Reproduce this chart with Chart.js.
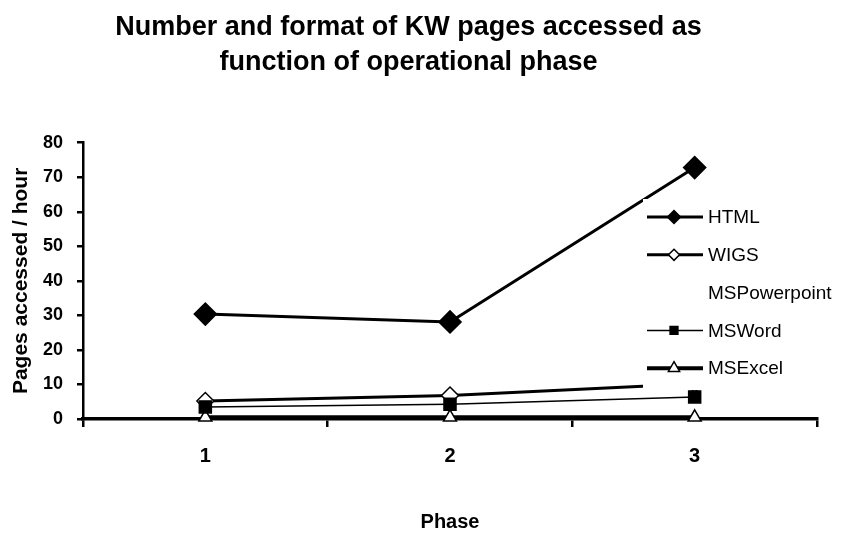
<!DOCTYPE html>
<html>
<head>
<meta charset="utf-8">
<script src="https://cdn.jsdelivr.net/npm/chart.js@4.4.1/dist/chart.umd.min.js"></script>
<style>
    html, body { margin: 0; padding: 0; background: #fff; }
    #wrap { width: 846px; height: 534px; }
</style>
</head>
<body>
<div id="wrap"><canvas id="lineChart" width="846" height="534"></canvas></div>
<script>
// data
var phases = ['1', '2', '3'];
var htmlPages = [30.4, 28.1, 72.8];
var wigsPages = [5.2, 6.8, 10.2];
var pptPages = [0, 0, 0];
var wordPages = [3.5, 4.3, 6.4];
var excelPages = [0.5, 0.5, 0.5];
var yMin = 0, yMax = 80, yStep = 10;

var FONT = "'Liberation Sans', Arial, sans-serif";

// legend drawn as a box over the plot, like the old excel chart
var legendBox = { left: 643, top: 199, right: 846, bottom: 390, rowTop: 217, rowGap: 37.8 };

function drawMarker(ctx, style, x, y, r, fill) {
    ctx.beginPath();
    if (style == 'rectRot') {
        ctx.moveTo(x, y - r); ctx.lineTo(x + r, y); ctx.lineTo(x, y + r); ctx.lineTo(x - r, y);
    } else if (style == 'rect') {
        var s = r * Math.SQRT1_2;
        ctx.rect(x - s, y - s, 2 * s, 2 * s);
    } else if (style == 'triangle') {
        for (var i = 0; i < 3; i++) {
            var a = i * 2 * Math.PI / 3;
            var px = x + Math.sin(a) * r, py = y - Math.cos(a) * r;
            if (i == 0) ctx.moveTo(px, py); else ctx.lineTo(px, py);
        }
    }
    ctx.closePath();
    ctx.fillStyle = fill;
    ctx.fill();
    ctx.lineWidth = 1.5;
    ctx.strokeStyle = '#000';
    ctx.stroke();
}

var boxLegend = {
    id: 'boxLegend',
    afterDatasetsDraw: function(chart) {
        var ctx = chart.ctx;
        ctx.save();
        ctx.fillStyle = '#fff';
        ctx.fillRect(legendBox.left, legendBox.top, legendBox.right - legendBox.left, legendBox.bottom - legendBox.top);
        chart.data.datasets.forEach(function(ds, i) {
            var y = legendBox.rowTop + i * legendBox.rowGap;
            if (ds.showLine !== false) {
                ctx.beginPath();
                ctx.moveTo(legendBox.left + 4, y);
                ctx.lineTo(legendBox.left + 60, y);
                ctx.lineWidth = ds.borderWidth;
                ctx.strokeStyle = '#000';
                ctx.stroke();
            }
            if (ds.pointRadius > 0) {
                var r = ds.pointStyle == 'triangle' ? 6.5 : ds.pointRadius * 0.65;
                drawMarker(ctx, ds.pointStyle, legendBox.left + 31, y, r, ds.pointBackgroundColor);
            }
            ctx.fillStyle = '#000';
            ctx.font = '19px ' + FONT;
            ctx.textAlign = 'left';
            ctx.textBaseline = 'middle';
            ctx.fillText(ds.label, legendBox.left + 65, y + 1);
        });
        ctx.restore();
    }
};

new Chart(document.getElementById('lineChart'), {
    type: 'line',
    data: {
        labels: phases,
        datasets: [{
            label: 'HTML',
            data: htmlPages,
            borderColor: '#000',
            borderWidth: 3,
            pointStyle: 'rectRot',
            pointRadius: 10,
            pointBackgroundColor: '#000',
            pointBorderColor: '#000',
            order: 0
        }, {
            label: 'WIGS',
            data: wigsPages,
            borderColor: '#000',
            borderWidth: 3,
            pointStyle: 'rectRot',
            pointRadius: 8.5,
            pointBorderWidth: 1.5,
            pointBackgroundColor: '#fff',
            pointBorderColor: '#000',
            order: 2
        }, {
            label: 'MSPowerpoint',
            data: pptPages,
            showLine: false,
            borderWidth: 0,
            pointRadius: 0,
            order: 4
        }, {
            label: 'MSWord',
            data: wordPages,
            borderColor: '#000',
            borderWidth: 1.5,
            pointStyle: 'rect',
            pointRadius: 8.5,
            pointBackgroundColor: '#000',
            pointBorderColor: '#000',
            order: 1
        }, {
            label: 'MSExcel',
            data: excelPages,
            borderColor: '#000',
            borderWidth: 4,
            pointStyle: 'triangle',
            pointRadius: 7.5,
            pointBorderWidth: 1.5,
            pointBackgroundColor: '#fff',
            pointBorderColor: '#000',
            order: 3
        }]
    },
    options: {
        responsive: false,
        animation: false,
        clip: false,
        layout: { padding: { left: 0, right: 29, top: 0, bottom: 0 } },
        elements: { line: { tension: 0 } },
        plugins: {
            legend: { display: false },
            tooltip: { enabled: false },
            title: {
                display: true,
                text: ['Number and format of KW pages accessed as', 'function of operational phase'],
                color: '#000',
                font: { family: FONT, size: 27, weight: 'bold', lineHeight: 1.3 },
                padding: { top: 9.5, bottom: 63 }
            }
        },
        scales: {
            x: {
                offset: true,
                grid: { offset: true, drawOnChartArea: false, drawTicks: true, tickLength: 8, color: '#000', lineWidth: 2.5 },
                border: { color: '#000', width: 3.5 },
                ticks: { color: '#000', padding: 17, font: { family: FONT, size: 20, weight: 'bold' } },
                title: { display: true, text: 'Phase', color: '#000', padding: { bottom: 0 }, font: { family: FONT, size: 20, weight: 'bold' } },
                afterFit: function(scale) { scale.height = 115; }
            },
            y: {
                min: yMin,
                max: yMax,
                grid: { drawOnChartArea: false, drawTicks: true, tickLength: 6, color: '#000', lineWidth: 2.5 },
                border: { color: '#000', width: 2.5 },
                ticks: { stepSize: yStep, color: '#000', padding: 14, font: { family: FONT, size: 18, weight: 'bold' } },
                title: { display: true, text: 'Pages accessed / hour', color: '#000', padding: { top: 9 }, font: { family: FONT, size: 21, weight: 'bold' } },
                afterFit: function(scale) { scale.width = 83; }
            }
        }
    },
    plugins: [boxLegend]
});
</script>
</body>
</html>
